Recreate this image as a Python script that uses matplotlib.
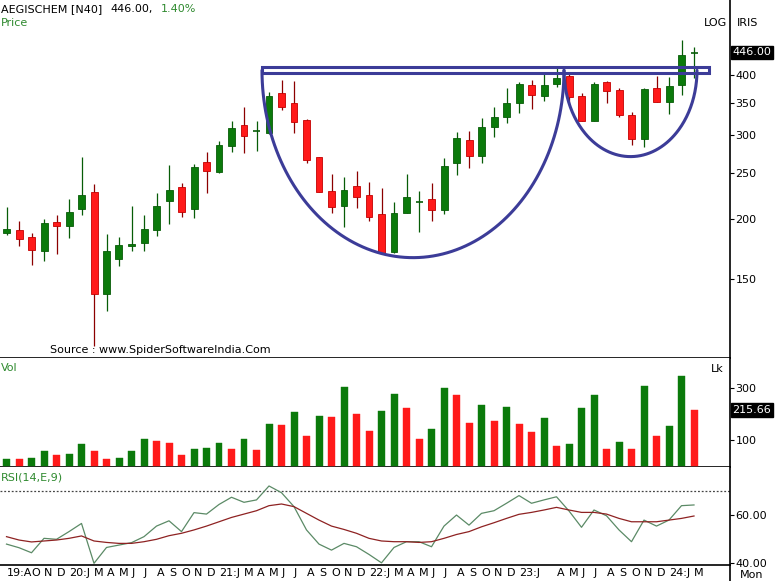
import numpy as np
import matplotlib
matplotlib.use('Agg')
import matplotlib.pyplot as plt
from matplotlib.transforms import blended_transform_factory
from matplotlib.ticker import NullLocator
from matplotlib.patches import Rectangle
from matplotlib.lines import Line2D

plt.rcParams['font.family'] = ['DejaVu Sans']

# ---------------- data ----------------
symbol = 'AEGISCHEM [N40]'
last_text = '446.00,'
change_text = '1.40%'
last_close_label = '446.00'
last_vol_label = '215.66'

opens = [186.7, 189.7, 183.1, 171.7, 197.4, 193.7, 209.9, 227.4, 139.4, 165.0,
         175.9, 178.5, 189.7, 218.1, 233.0, 209.6, 263.5, 250.4, 284.6, 314.4,
         304.0, 302.9, 366.3, 349.1, 322.0, 269.2, 228.8, 213.2, 234.4, 224.5,
         204.9, 170.9, 206.2, 217.0, 219.9, 208.8, 261.5, 292.5, 271.2, 311.9,
         327.2, 349.1, 381.1, 361.5, 382.5, 397.9, 361.5, 321.0, 386.1, 372.1,
         329.9, 293.5, 375.2, 351.8, 381.1, 443.9]
highs = [211.6, 198.4, 187.2, 200.0, 203.9, 219.9, 269.2, 236.4, 186.1, 183.1,
         213.2, 203.9, 226.3, 259.4, 237.5, 260.6, 275.7, 291.1, 321.0, 343.4,
         320.5, 368.5, 390.4, 389.1, 324.0, 270.0, 248.0, 244.5, 252.3, 238.6,
         231.8, 217.4, 248.4, 228.8, 237.5, 268.7, 304.4, 305.9, 324.7, 343.4,
         375.2, 387.2, 390.4, 406.4, 416.2, 403.3, 366.3, 387.2, 389.1, 375.2,
         335.2, 375.2, 397.9, 396.6, 473.3, 458.3]
lows = [185.2, 175.6, 160.3, 163.6, 168.8, 182.8, 203.9, 108.5, 128.6, 159.6,
        171.7, 171.7, 184.3, 195.2, 201.6, 200.7, 227.0, 249.9, 276.5, 275.2,
        277.8, 301.1, 337.9, 302.1, 261.5, 228.1, 205.6, 192.7, 211.2, 198.4,
        169.5, 169.5, 205.6, 188.1, 198.1, 204.9, 247.2, 256.0, 261.5, 297.2,
        317.0, 332.6, 339.1, 353.5, 377.0, 346.2, 321.0, 321.0, 350.1, 326.3,
        285.6, 282.4, 351.8, 331.5, 363.3, 394.2]
closes = [190.6, 181.4, 172.3, 195.9, 193.7, 206.5, 224.5, 139.4, 171.7, 176.5,
          177.1, 190.6, 212.9, 230.0, 207.1, 257.2, 252.3, 285.6, 309.5, 298.6,
          305.4, 361.5, 343.4, 319.4, 265.7, 228.1, 212.2, 230.0, 222.0, 202.2,
          169.5, 205.6, 222.6, 218.0, 208.8, 258.5, 294.9, 271.2, 310.9, 326.3,
          349.1, 382.6, 363.3, 381.1, 393.6, 359.3, 321.0, 383.0, 370.9, 329.9,
          293.5, 373.4, 351.8, 379.3, 440.0, 446.0]
volume = [28, 27, 32, 58, 41, 47, 85, 58, 28, 32,
          58, 104, 96, 90, 41, 66, 70, 89, 67, 104,
          63, 161, 158, 206, 116, 192, 189, 305, 200, 134,
          210, 278, 223, 104, 142, 299, 272, 165, 233, 173,
          225, 162, 132, 185, 78, 85, 223, 271, 66, 94,
          66, 309, 116, 154, 347, 215.66]
rsi = [47.9, 46.4, 44.3, 50.3, 49.9, 53.1, 56.5, 39.9, 46.5, 47.5,
       48.5, 51.0, 55.4, 57.6, 53.1, 61.0, 60.4, 64.4, 67.4, 65.3,
       66.3, 72.1, 69.3, 63.5, 53.8, 47.9, 45.4, 48.2, 46.8, 43.6,
       40.1, 46.5, 48.9, 48.9, 46.8, 55.4, 60.0, 55.8, 60.7, 61.8,
       64.9, 68.1, 64.9, 66.3, 67.6, 61.7, 54.9, 62.1, 59.7, 53.8,
       48.9, 57.9, 55.4, 57.9, 63.9, 64.2]
rsi_signal = [51.0, 49.6, 48.8, 49.2, 49.6, 50.3, 51.3, 49.2, 48.6, 48.2,
              48.2, 48.9, 49.9, 51.4, 52.4, 53.8, 55.4, 57.2, 59.0, 60.4,
              61.8, 63.9, 64.6, 63.5, 60.7, 57.9, 55.4, 54.0, 52.4, 50.3,
              49.2, 48.9, 48.9, 48.6, 48.9, 50.3, 51.9, 53.1, 55.1, 56.8,
              58.6, 60.3, 61.1, 62.1, 63.2, 62.1, 61.1, 61.1, 60.4, 58.6,
              57.2, 57.2, 57.2, 57.9, 58.6, 59.6]
x_labels = ['19:A', '', 'O', 'N', 'D', '20:J', '', 'M', 'A', 'M', 'J', 'J', 'A', 'S', 'O', 'N', 'D',
            '21:J', '', 'M', 'A', 'M', 'J', 'J', 'A', 'S', 'O', 'N', 'D',
            '22:J', '', 'M', 'A', 'M', 'J', 'J', 'A', 'S', 'O', 'N', 'D',
            '23:J', '', '', 'A', 'M', 'J', 'J', 'A', 'S', 'O', 'N', 'D',
            '24:J', '', 'M']
price_ticks = [150, 200, 250, 300, 350, 400]
vol_ticks = [100, 300]
rsi_ticks = [40, 60]
rsi_level = 70

# cup & handle annotation (candle index / price units)
rim_x0, rim_x1 = 20.44, 56.2
rim_lo, rim_hi = 403.7, 415.1
rim_mid = 409.0
cup_x0, cup_x1, cup_bottom = 20.44, 44.6, 166.0
handle_x0, handle_x1, handle_bottom = 44.6, 55.24, 270.0

# ---------------- style ----------------
W, H = 779, 581
GREEN = '#0b7a0b'
GREEN_EDGE = '#075c07'
RED = '#ff1a1a'
RED_EDGE = '#c40000'
RED_WICK = '#8c0000'
BLUE = '#3c3c98'
LBL_GREEN = '#2f8a2f'

def fx(px):
    return px / W

def fy(py):
    return 1 - py / H

fig = plt.figure(figsize=(W / 100, H / 100), dpi=100)
right = 730
ax_p = fig.add_axes([0, fy(358), fx(right), 358 / H])
ax_v = fig.add_axes([0, fy(467), fx(right), (467 - 358) / H])
ax_r = fig.add_axes([0, fy(565), fx(right), (565 - 467) / H])

n = len(closes)
idx = np.arange(n)
xlim = (-0.52, 57.88)

for ax in (ax_p, ax_v, ax_r):
    ax.set_xlim(*xlim)
    for s in ('top', 'left'):
        ax.spines[s].set_visible(False)
    ax.spines['right'].set_linewidth(1.2)
    ax.spines['bottom'].set_linewidth(1.2)
    ax.yaxis.tick_right()
    ax.tick_params(axis='y', direction='out', length=3, width=0.8, pad=1,
                   labelsize=8, colors='black')
    ax.set_facecolor('white')

# ---------------- price ----------------
ax_p.set_yscale('log')
ax_p.set_ylim(102.4, 573.8)
bw = 0.56
for i in range(n):
    o, h, l, c = opens[i], highs[i], lows[i], closes[i]
    up = c >= o
    wick_col = GREEN_EDGE if up else RED_WICK
    ax_p.vlines(i, l, h, color=wick_col, linewidth=0.9, zorder=2)
    lo_b, hi_b = min(o, c), max(o, c)
    if hi_b / lo_b < 1.006:
        ax_p.hlines((o + c) / 2, i - bw / 2, i + bw / 2, color=wick_col,
                    linewidth=1.2, zorder=3)
    else:
        ax_p.bar(i, hi_b - lo_b, bottom=lo_b, width=bw,
                 color=GREEN if up else RED,
                 edgecolor=GREEN_EDGE if up else RED_EDGE,
                 linewidth=0.6, zorder=3)

ax_p.yaxis.set_minor_locator(NullLocator())
ax_p.set_yticks(price_ticks)
ax_p.set_yticklabels([str(t) for t in price_ticks])
ax_p.set_xticks([])

# cup & handle drawing
t = np.linspace(0, np.pi, 200)
def arc(x0, x1, top, bottom):
    cx = (x0 + x1) / 2
    a = (x1 - x0) / 2
    lt, lb = np.log(top), np.log(bottom)
    xs = cx - a * np.cos(t)
    ys = np.exp(lt - (lt - lb) * np.sin(t))
    return xs, ys

xs, ys = arc(cup_x0, cup_x1, rim_mid, cup_bottom)
ax_p.plot(xs, ys, color=BLUE, linewidth=2.2, zorder=5, solid_capstyle='round')
xs, ys = arc(handle_x0, handle_x1, rim_mid, handle_bottom)
ax_p.plot(xs, ys, color=BLUE, linewidth=2.2, zorder=5, solid_capstyle='round')
ax_p.add_patch(Rectangle((rim_x0, rim_lo), rim_x1 - rim_x0, rim_hi - rim_lo,
                         fill=False, edgecolor=BLUE, linewidth=2.2, zorder=5))

tr_p = blended_transform_factory(ax_p.transAxes, ax_p.transData)
ax_p.text(1.003, closes[-1], last_close_label, transform=tr_p, ha='left',
          va='center', fontsize=8, color='white',
          bbox=dict(boxstyle='square,pad=0.15', facecolor='black', edgecolor='black'),
          zorder=10, clip_on=False)

# ---------------- volume ----------------
ax_v.set_ylim(-4, 415)
vcols = [GREEN] + [GREEN if volume[i] > volume[i - 1] else RED for i in range(1, n)]
ax_v.bar(idx, volume, width=bw, color=vcols, edgecolor=vcols, linewidth=0.3, zorder=3)
ax_v.set_yticks(vol_ticks)
ax_v.set_yticklabels([str(t) for t in vol_ticks])
ax_v.set_xticks([])
tr_v = blended_transform_factory(ax_v.transAxes, ax_v.transData)
ax_v.text(1.003, volume[-1], last_vol_label, transform=tr_v, ha='left',
          va='center', fontsize=8, color='white',
          bbox=dict(boxstyle='square,pad=0.15', facecolor='black', edgecolor='black'),
          zorder=10, clip_on=False)

# ---------------- RSI ----------------
ax_r.set_ylim(39.2, 80)
ax_r.axhline(rsi_level, color='#444444', linewidth=0.9, linestyle=(0, (1.5, 1.5)), zorder=1)
ax_r.plot(idx, rsi, color='#5b8a66', linewidth=0.9, zorder=3)
ax_r.plot(idx, rsi_signal, color='#8e2222', linewidth=0.9, zorder=4)
ax_r.set_yticks(rsi_ticks)
ax_r.set_yticklabels(['%.2f' % v for v in rsi_ticks])
ax_r.set_xticks(idx)
ax_r.set_xticklabels(x_labels, ha='left', fontsize=8)
ax_r.tick_params(axis='x', length=0, pad=2)

# ---------------- texts ----------------
fig.text(fx(1), fy(9), symbol, fontsize=8, va='center', ha='left')
fig.text(fx(110), fy(9), last_text, fontsize=8, va='center', ha='left')
fig.text(fx(161), fy(9), change_text, fontsize=8, va='center', ha='left', color=LBL_GREEN)
fig.text(fx(1), fy(23), 'Price', fontsize=8, va='center', ha='left', color=LBL_GREEN)
fig.text(fx(704), fy(23), 'LOG', fontsize=8, va='center', ha='left')
fig.text(fx(737), fy(23), 'IRIS', fontsize=8, va='center', ha='left')
fig.text(fx(50), fy(350), 'Source : www.SpiderSoftwareIndia.Com', fontsize=8,
         va='center', ha='left')
fig.text(fx(1), fy(368), 'Vol', fontsize=8, va='center', ha='left', color=LBL_GREEN)
fig.text(fx(711), fy(369), 'Lk', fontsize=8, va='center', ha='left')
fig.text(fx(1), fy(478), 'RSI(14,E,9)', fontsize=8, va='center', ha='left', color=LBL_GREEN)
fig.text(fx(740), fy(575), 'Mon', fontsize=8, va='center', ha='left')

fig.add_artist(Line2D([fx(right), fx(right)], [0, fy(565)], color='black',
                      linewidth=1.2, transform=fig.transFigure))

fig.savefig('out.png', dpi=100, facecolor='white')
